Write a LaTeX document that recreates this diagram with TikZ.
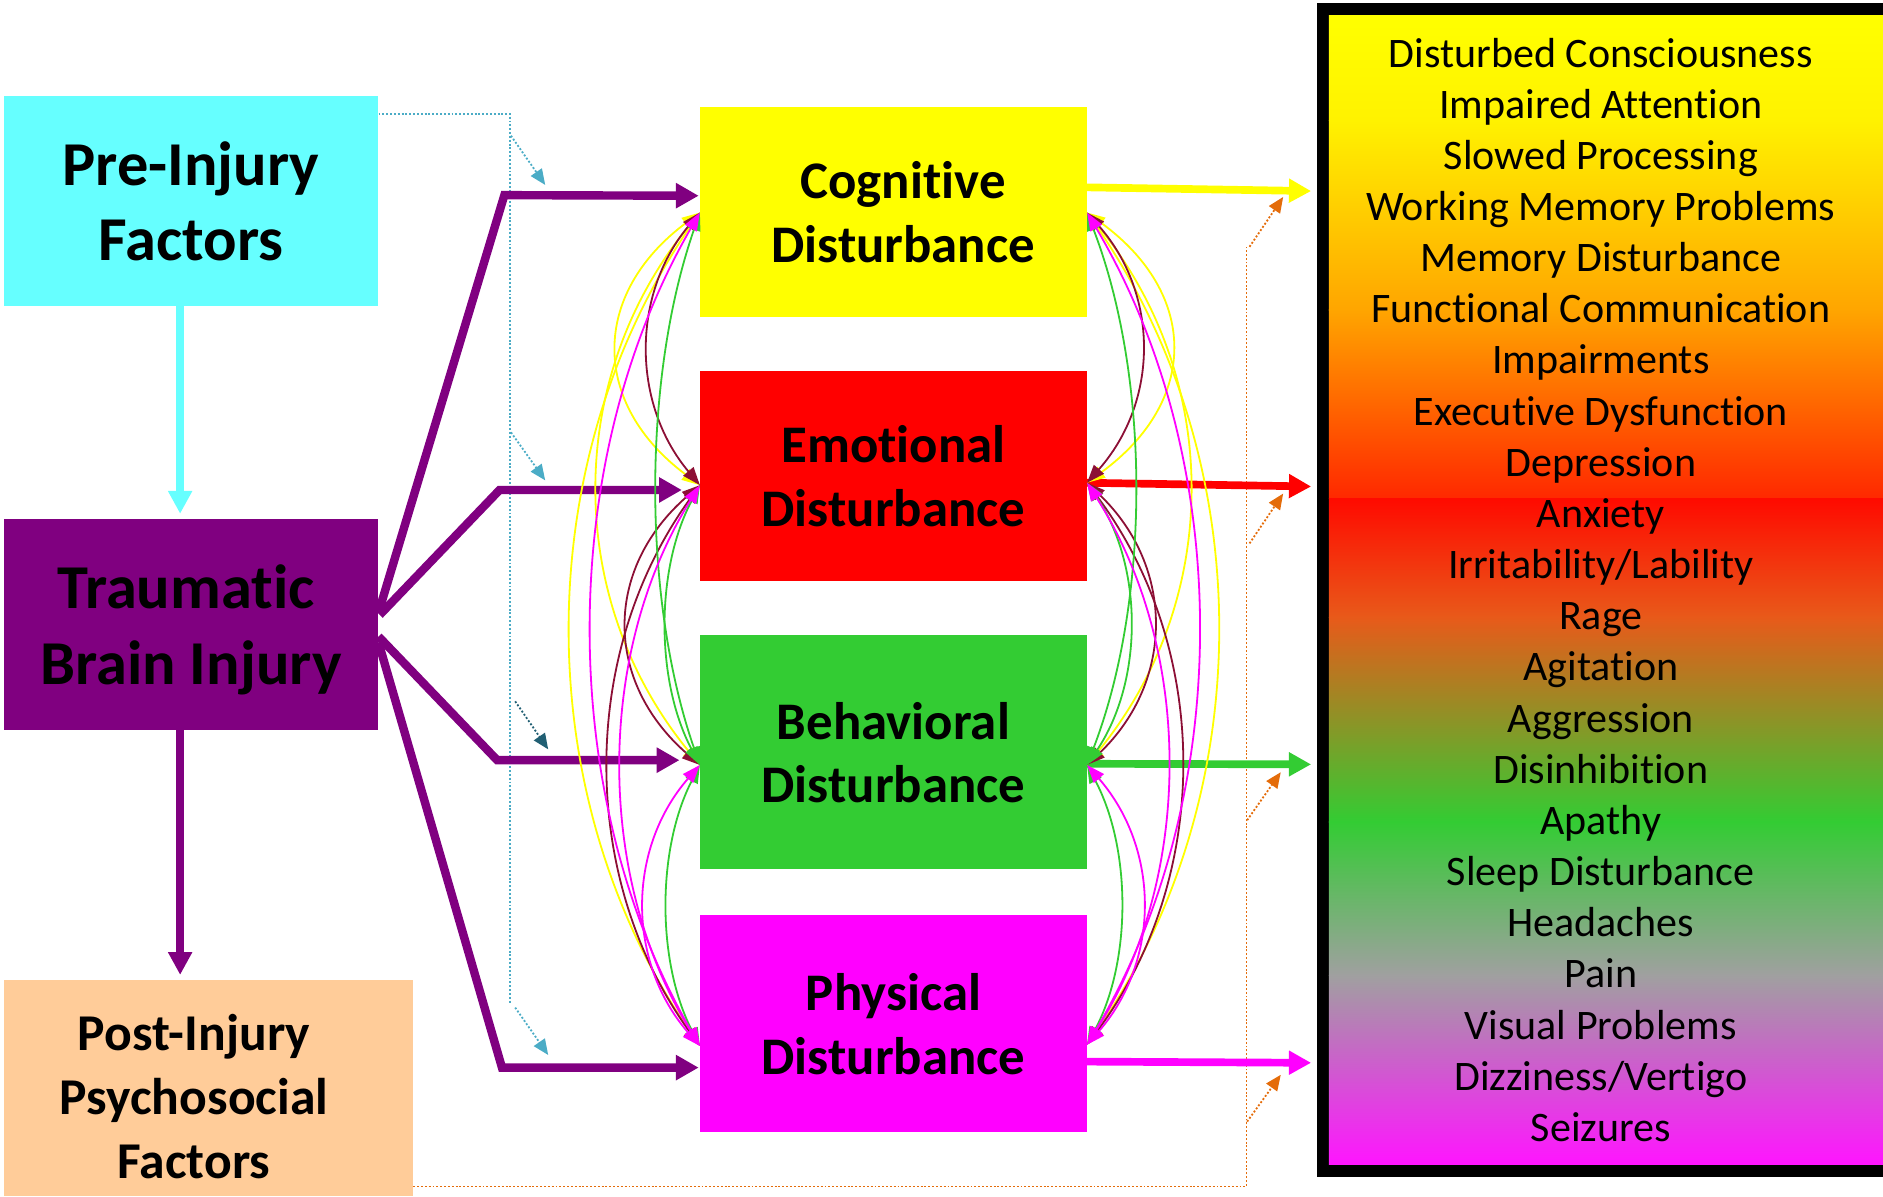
\documentclass[tikz,border=0pt]{standalone}
\usepackage{fontspec}
\setmainfont{Carlito}[RawFeature={-liga;-clig;-calt;-dlig}]
\usetikzlibrary{arrows.meta,calc}
\newcommand\tiX{t\kern0pt i}
\definecolor{cyanbox}{HTML}{66FFFF}
\definecolor{tbipurple}{HTML}{800080}
\definecolor{peachbox}{HTML}{FFCC99}
\definecolor{cogyellow}{HTML}{FFFF00}
\definecolor{emored}{HTML}{FF0000}
\definecolor{behgreen}{HTML}{33CC33}
\definecolor{phymag}{HTML}{FF00FF}
\definecolor{linkmaroon}{HTML}{8C0F35}
\definecolor{dotblue}{HTML}{4BACC6}
\definecolor{dotteal}{HTML}{215F73}
\definecolor{dotorange}{HTML}{E46C0A}
\definecolor{g1}{HTML}{FFFF00}
\definecolor{g2}{HTML}{FFF200}
\definecolor{g3}{HTML}{FFA500}
\definecolor{g4}{HTML}{FF2800}
\definecolor{g5}{HTML}{FF0A00}
\definecolor{g6}{HTML}{E85A1A}
\definecolor{g7}{HTML}{33CC33}
\definecolor{g8}{HTML}{A0A0A0}
\definecolor{g9}{HTML}{FF14FF}
\newcommand\leftlink[5]{\draw[linktip,#1] (#2) .. controls +(-#4,#5) and +(-#4,-#5) .. (#3);}
\newcommand\rightlink[5]{\draw[linktip,#1] (#2) .. controls +(#4,#5) and +(#4,-#5) .. (#3);}
\begin{document}
\begin{tikzpicture}[x=1pt,y=-1pt,
  bigbox/.style={rectangle, inner sep=0pt, align=center, text depth=0pt, font=\bfseries\fontsize{52}{63}\selectfont},
  midbox/.style={rectangle, inner sep=0pt, minimum width=322pt, align=center, text depth=0pt, font=\bfseries\fontsize{44}{53}\selectfont},
  symtext/.style={inner sep=0pt, anchor=base, font=\fontsize{35}{42}\selectfont},
  thickarrow/.style={line width=7pt, -{Triangle[length=19pt,width=20pt]}},
  vertarrow/.style={line width=6.3pt, -{Triangle[length=19pt,width=19pt]}},
  outarrow/.style={line width=6.4pt, -{Triangle[length=18.5pt,width=19pt]}},
  linktip/.style={line width=1.5pt, {Triangle[length=15pt,width=11pt]}-{Triangle[length=15pt,width=11pt]}},
  dotline/.style={line width=1.5pt, dash pattern=on 1.6pt off 1.6pt},
  dottip/.style={dotline, -{Triangle[length=13pt,width=11pt]}}
]
\useasboundingbox (0,0) rectangle (1568,996);

% left boxes
\node[bigbox, fill=cyanbox, minimum width=312pt, minimum height=175pt] (pre) at (159,167.5) {Pre-Injury\\Factors};
\node[bigbox, fill=tbipurple, minimum width=312pt, minimum height=176pt] (tbi) at (159,520) {Traumatic\hspace*{8pt}\\Brain Injury};
\node[rectangle, inner sep=0pt, fill=peachbox, minimum width=341pt, minimum height=180pt] (post) at (173.5,906) {};
\node[inner sep=0pt, align=center, text depth=0pt, font=\bfseries\fontsize{43}{53}\selectfont] (posttext) at (161.5,913) {Post-Injury\\Psychosocial\\Factors};

% middle boxes
\node[midbox, fill=cogyellow, minimum height=175pt] (cog) at (744,176.5) {\hspace*{16pt}Cogni\tiX ve\\\hspace*{16pt}Disturbance};
\node[midbox, fill=emored, minimum height=175pt] (emo) at (744,396.5) {Emo\tiX onal\\Disturbance};
\node[midbox, fill=behgreen, minimum height=195pt] (beh) at (744,626.5) {Behavioral\\Disturbance};
\node[midbox, fill=phymag, minimum height=181pt] (phy) at (744,852.5) {Physical\\Disturbance};

% symptom panel
\node[rectangle, inner sep=0pt, fill=black, minimum width=473.6pt, minimum height=977.2pt] (panel) at (1333.2,491.1) {};
\shade[top color=g1, bottom color=g2] (1106.5,12.7) rectangle (1572,100.5);
\shade[top color=g2, bottom color=g3] (1106.5,100) rectangle (1572,258.5);
\shade[top color=g3, bottom color=g4] (1106.5,258) rectangle (1572,415);
\shade[top color=g5, bottom color=g6] (1106.5,415) rectangle (1572,514.5);
\shade[top color=g6, bottom color=g7] (1106.5,514) rectangle (1572,684.5);
\shade[top color=g7, bottom color=g8] (1106.5,684) rectangle (1572,812.5);
\shade[top color=g8, bottom color=g9] (1106.5,812) rectangle (1572,970);
\foreach \t [count=\i] in {Disturbed Consciousness, Impaired Atten\tiX on, Slowed Processing, Working Memory Problems, Memory Disturbance, Func\tiX onal Communica\tiX on, Impairments, Execu\tiX ve Dysfunc\tiX on, Depression, Anxiety, Irritability/Lability, Rage, Agita\tiX on, Aggression, Disinhibi\tiX on, Apathy, Sleep Disturbance, Headaches, Pain, Visual Problems, Dizziness/Vertigo, Seizures}
  \node[symtext] (s\i) at (1333,{55.8+42.6*(\i-1)}) {\t};

% vertical arrows
\draw[vertarrow, cyanbox] ([xshift=-9pt]pre.south) -- ([xshift=-9pt,yshift=4pt]tbi.north);
\draw[vertarrow, tbipurple] ([xshift=-9pt]tbi.south) -- ([xshift=-23.5pt,yshift=4pt]post.north);

% dotted pre-injury line
\coordinate (cyanbot) at (425,836);
\draw[dotline, dotblue] ($(pre.east)+(0,-72.5)$) -| (cyanbot);
\coordinate (ca1) at (425.5,113); \coordinate (cb1) at (454,154);
\coordinate (ca2) at (425.5,360); \coordinate (cb2) at (454,400);
\coordinate (ca3) at (429,584);   \coordinate (cb3) at (456.5,624);
\coordinate (ca4) at (429,839);   \coordinate (cb4) at (456.5,878.5);
\draw[dottip, dotblue] (ca1) -- (cb1);
\draw[dottip, dotblue] (ca2) -- (cb2);
\draw[dottip, dotteal] (ca3) -- (cb3);
\draw[dottip, dotblue] (ca4) -- (cb4);

% dotted post-injury line
\coordinate (orangetop) at (1038,206);
\draw[dotline, dotorange] ($(post.east)+(0,82)$) -| (orangetop);
\coordinate (oa1) at (1040.5,205.5); \coordinate (ob1) at (1068.5,164);
\coordinate (oa2) at (1040.5,452.5); \coordinate (ob2) at (1068.5,411);
\coordinate (oa3) at (1038.5,683);   \coordinate (ob3) at (1066.5,643);
\coordinate (oa4) at (1038.5,934);   \coordinate (ob4) at (1066.5,895);
\foreach \k in {1,2,3,4} \draw[dottip, dotorange] (oa\k) -- (ob\k);

% TBI to disturbances
\draw[thickarrow, tbipurple] ($(tbi.east)+(0,-10)$) -- (420,162.5) -- ($(cog.west)+(-1,-13.5)$);
\draw[thickarrow, tbipurple] ($(tbi.east)+(1,-8)$) -- (416,408) -- ($(emo.west)+(-15,11.5)$);
\draw[thickarrow, tbipurple] ($(tbi.east)+(0,10)$) -- (414,633) -- ($(beh.west)+(-17,6.5)$);
\draw[thickarrow, tbipurple] ($(tbi.east)+(0,15)$) -- (418,889) -- ($(phy.west)+(-1,36.5)$);

% outputs to panel
\draw[outarrow, cogyellow] ($(cog.east)+(0,-20.5)$) -- ($(panel.west)+(-4.4,-332)$);
\draw[outarrow, emored] ($(emo.east)+(0,5.5)$) -- ($(panel.west)+(-4.4,-86)$);
\draw[outarrow, behgreen] ($(beh.east)+(0,9.5)$) -- ($(panel.west)+(-4.4,145.4)$);
\draw[outarrow, phymag] ($(phy.east)+(0,31.5)$) -- ($(panel.west)+(-4.4,393.9)$);

% link points
\coordinate (cL) at ($(cog.west)+(0,0.5)$);
\coordinate (eL) at ($(emo.west)+(0,7.5)$);
\coordinate (bL) at ($(beh.west)+(0,10.5)$);
\coordinate (pL) at ($(phy.west)+(0,18.5)$);
\coordinate (cR) at ($(cog.east)+(0,0.5)$);
\coordinate (eR) at ($(emo.east)+(0,5.5)$);
\coordinate (bR) at ($(beh.east)+(0,10.5)$);
\coordinate (pR) at ($(phy.east)+(0,17.5)$);

% left links
\leftlink{cogyellow}{cL}{eL}{91}{68}
\leftlink{cogyellow}{cL}{bL}{113}{138}
\leftlink{cogyellow}{cL}{pL}{143}{208}
\leftlink{linkmaroon}{cL}{eL}{57}{68}
\leftlink{linkmaroon}{eL}{bL}{80}{70}
\leftlink{linkmaroon}{eL}{pL}{101}{140}
\leftlink{behgreen}{cL}{bL}{48}{138}
\leftlink{behgreen}{eL}{bL}{37}{70}
\leftlink{behgreen}{bL}{pL}{36}{70}
\leftlink{phymag}{cL}{pL}{120}{208}
\leftlink{phymag}{eL}{pL}{87}{140}
\leftlink{phymag}{bL}{pL}{61}{70}

% right links
\rightlink{cogyellow}{cR}{eR}{93}{68}
\rightlink{cogyellow}{cR}{bR}{113}{138}
\rightlink{cogyellow}{cR}{pR}{144}{208}
\rightlink{linkmaroon}{cR}{eR}{60}{68}
\rightlink{linkmaroon}{eR}{bR}{73}{70}
\rightlink{linkmaroon}{eR}{pR}{104}{140}
\rightlink{behgreen}{cR}{bR}{53}{138}
\rightlink{behgreen}{eR}{bR}{47}{70}
\rightlink{behgreen}{bR}{pR}{37}{70}
\rightlink{phymag}{cR}{pR}{123}{208}
\rightlink{phymag}{eR}{pR}{89}{140}
\rightlink{phymag}{bR}{pR}{61}{70}
\end{tikzpicture}
\end{document}
